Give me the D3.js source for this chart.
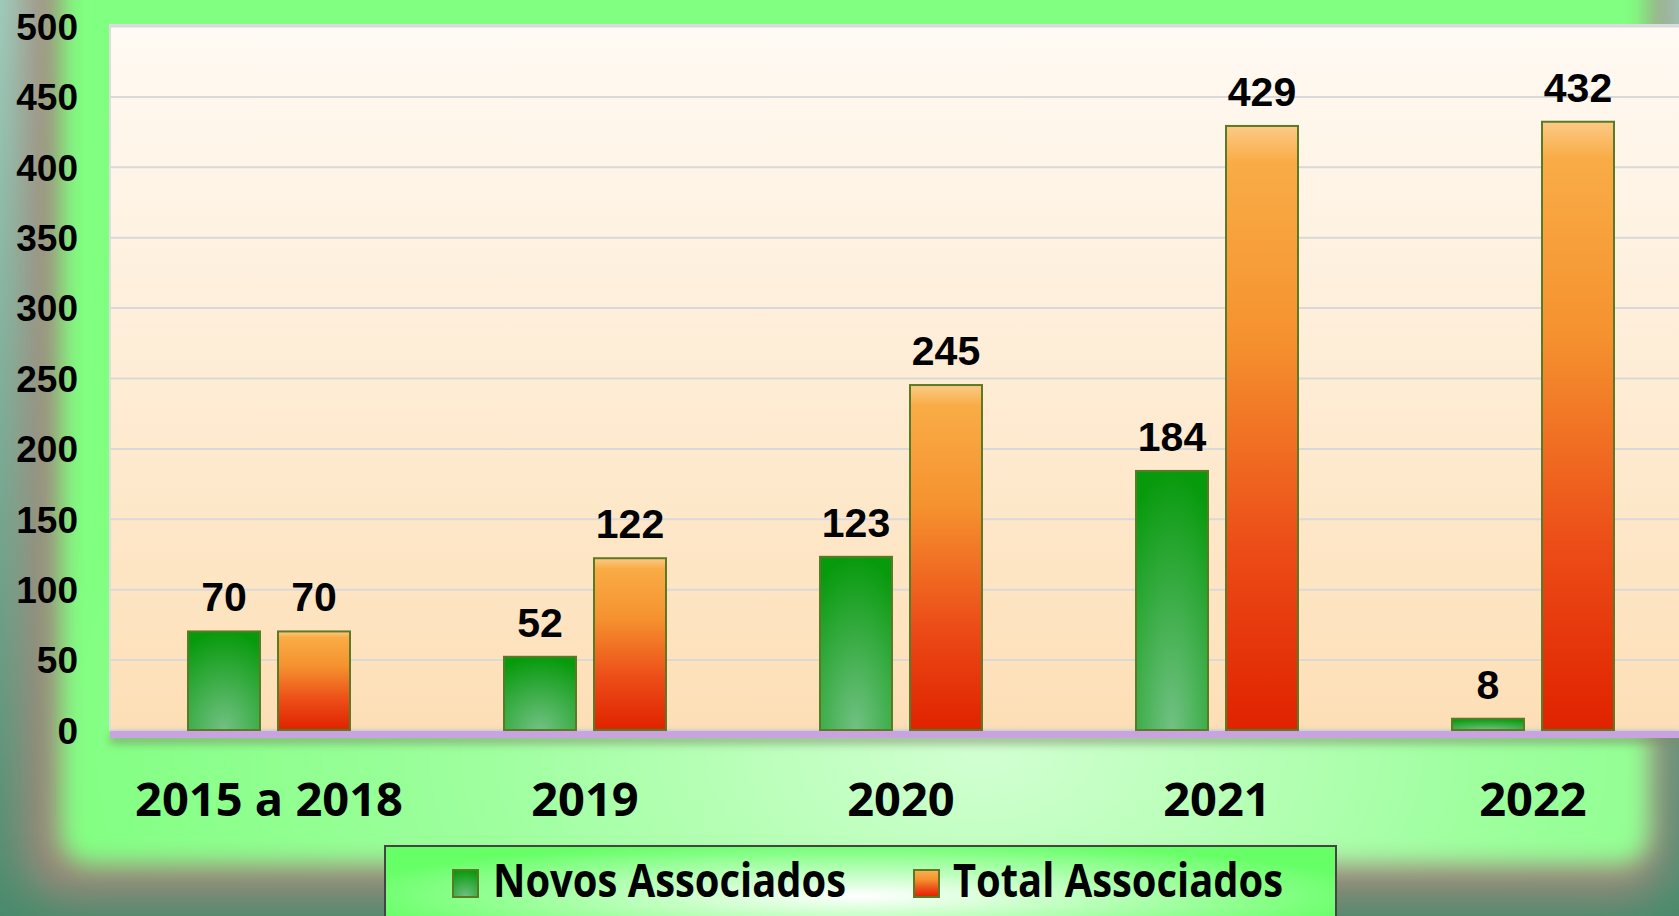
<!DOCTYPE html>
<html>
<head>
<meta charset="utf-8">
<script src="https://cdn.jsdelivr.net/npm/d3@7"></script>
<style>
  html, body { margin: 0; padding: 0; overflow: hidden; }
  #chart { width: 1679px; height: 916px; }
</style>
</head>
<body>
<div id="chart"></div>
<script>
// data
var categories = ["2015 a 2018", "2019", "2020", "2021", "2022"];
var novosAssociados = [70, 52, 123, 184, 8];
var totalAssociados = [70, 122, 245, 429, 432];
var seriesNames = ["Novos Associados", "Total Associados"];
var yTicks = [0, 50, 100, 150, 200, 250, 300, 350, 400, 450, 500];

var width = 1679, height = 916;
var plot = {left: 110, top: 25, right: 1679, bottom: 730};

var svg = d3.select("#chart").append("svg")
    .attr("width", width)
    .attr("height", height);

var defs = svg.append("defs");

var bgGrad = defs.append("linearGradient").attr("id", "bgGrad")
    .attr("x1", 0).attr("y1", 0).attr("x2", 0).attr("y2", 1);
bgGrad.append("stop").attr("offset", "0%").attr("stop-color", "#9fd2c2");
bgGrad.append("stop").attr("offset", "100%").attr("stop-color", "#4a8a6c");

var glowGrad = defs.append("radialGradient").attr("id", "glowGrad")
    .attr("cx", "58%").attr("cy", "88%").attr("r", "60%");
glowGrad.append("stop").attr("offset", "0%").attr("stop-color", "#d2ffd2");
glowGrad.append("stop").attr("offset", "55%").attr("stop-color", "#9cff9c");
glowGrad.append("stop").attr("offset", "100%").attr("stop-color", "#80ff80");

defs.append("filter").attr("id", "blurBig")
    .attr("x", "-10%").attr("y", "-10%").attr("width", "120%").attr("height", "120%")
    .append("feGaussianBlur").attr("stdDeviation", 22);
defs.append("filter").attr("id", "blurSmall")
    .attr("x", "-10%").attr("y", "-10%").attr("width", "120%").attr("height", "120%")
    .append("feGaussianBlur").attr("stdDeviation", 12);
defs.append("filter").attr("id", "blurLine")
    .attr("x", "-5%").attr("y", "-200%").attr("width", "110%").attr("height", "500%")
    .append("feGaussianBlur").attr("stdDeviation", 4);

var plotGrad = defs.append("linearGradient").attr("id", "plotGrad")
    .attr("x1", 0).attr("y1", 0).attr("x2", 0).attr("y2", 1);
plotGrad.append("stop").attr("offset", "0%").attr("stop-color", "#fffaf4");
plotGrad.append("stop").attr("offset", "100%").attr("stop-color", "#fddfb6");

var greenGrad = defs.append("radialGradient").attr("id", "greenGrad")
    .attr("cx", "50%").attr("cy", "100%").attr("r", "100%");
greenGrad.append("stop").attr("offset", "0%").attr("stop-color", "#72c184");
greenGrad.append("stop").attr("offset", "100%").attr("stop-color", "#079a0c");

var orangeGrad = defs.append("linearGradient").attr("id", "orangeGrad")
    .attr("x1", 0).attr("y1", 0).attr("x2", 0).attr("y2", 1);
orangeGrad.append("stop").attr("offset", "0%").attr("stop-color", "#fcca86");
orangeGrad.append("stop").attr("offset", "6%").attr("stop-color", "#f9ac46");
orangeGrad.append("stop").attr("offset", "35%").attr("stop-color", "#f5922f");
orangeGrad.append("stop").attr("offset", "70%").attr("stop-color", "#ec4c17");
orangeGrad.append("stop").attr("offset", "100%").attr("stop-color", "#e02200");

var legendGrad = defs.append("radialGradient").attr("id", "legendGrad")
    .attr("cx", "50%").attr("cy", "50%").attr("r", "55%");
legendGrad.append("stop").attr("offset", "0%").attr("stop-color", "#ffffff");
legendGrad.append("stop").attr("offset", "100%").attr("stop-color", "#66ff66");

// background frame
svg.append("rect").attr("width", width).attr("height", height).attr("fill", "url(#bgGrad)");
svg.append("rect")
    .attr("x", 25).attr("y", -80).attr("width", 1640).attr("height", 975)
    .attr("rx", 40)
    .attr("fill", "#a3887a")
    .attr("filter", "url(#blurBig)");
svg.append("rect")
    .attr("x", 60).attr("y", -60).attr("width", 1590).attr("height", 925)
    .attr("rx", 30)
    .attr("fill", "url(#glowGrad)")
    .attr("filter", "url(#blurSmall)");

// plot area
svg.append("rect")
    .attr("x", plot.left).attr("y", plot.top)
    .attr("width", plot.right - plot.left + 10).attr("height", plot.bottom - plot.top)
    .attr("fill", "url(#plotGrad)")
    .attr("stroke", "#dddddd")
    .attr("stroke-width", 2);

var x0 = d3.scaleBand()
    .domain(categories)
    .range([111, 1691]);

var x1 = d3.scaleBand()
    .domain(seriesNames)
    .range([0, 162])
    .paddingInner(0.2);
var groupOffset = (x0.bandwidth() - 162) / 2;

var y = d3.scaleLinear()
    .domain([0, 500])
    .range([plot.bottom, 26]);

// gridlines
var grid = svg.append("g")
    .attr("class", "grid")
    .attr("transform", `translate(${plot.left}, 0)`)
    .call(d3.axisLeft(y).tickValues(yTicks).tickSize(-(plot.right - plot.left)).tickFormat(""));
grid.select(".domain").remove();
grid.selectAll("line").attr("stroke", "#d9d9d9").attr("stroke-width", 2);
grid.selectAll(".tick").filter(d => d === 0).remove();

// y labels
var yAxis = svg.append("g")
    .attr("class", "y axis")
    .attr("transform", "translate(78, 0)")
    .call(d3.axisLeft(y).tickValues(yTicks).tickSize(0).tickPadding(0));
yAxis.select(".domain").remove();
yAxis.selectAll("text")
    .attr("fill", "#000")
    .attr("dy", "0.36em")
    .style("font-family", "'Liberation Sans', Arial, sans-serif")
    .style("font-weight", "bold")
    .style("font-size", "37px");

// baseline strip with shadow
svg.append("rect")
    .attr("x", plot.left).attr("y", y(0) + 4)
    .attr("width", plot.right - plot.left).attr("height", 10)
    .attr("fill", "#7a8a6a").attr("opacity", 0.6)
    .attr("filter", "url(#blurLine)");
svg.append("rect")
    .attr("x", plot.left).attr("y", y(0) + 1)
    .attr("width", plot.right - plot.left).attr("height", 7)
    .attr("fill", "#c9a3df");

// bars
var rows = categories.map((c, i) => ({
  category: c,
  values: [
    {series: seriesNames[0], value: novosAssociados[i]},
    {series: seriesNames[1], value: totalAssociados[i]}
  ]
}));
var fills = {"Novos Associados": "url(#greenGrad)", "Total Associados": "url(#orangeGrad)"};

var groups = svg.selectAll(".group")
    .data(rows)
    .enter()
    .append("g")
    .attr("class", "group")
    .attr("transform", d => `translate(${x0(d.category) + groupOffset}, 0)`);

groups.selectAll(".bar")
    .data(d => d.values)
    .enter()
    .append("rect")
    .attr("class", "bar")
    .attr("x", d => x1(d.series))
    .attr("y", d => y(d.value))
    .attr("width", x1.bandwidth())
    .attr("height", d => y(0) - y(d.value))
    .attr("fill", d => fills[d.series])
    .attr("stroke", "#5b7a26")
    .attr("stroke-width", 2);

groups.selectAll(".value")
    .data(d => d.values)
    .enter()
    .append("text")
    .attr("class", "value")
    .attr("x", d => x1(d.series) + x1.bandwidth() / 2)
    .attr("y", d => y(d.value) - 20)
    .attr("text-anchor", "middle")
    .style("font-family", "'Liberation Sans', Arial, sans-serif")
    .style("font-weight", "bold")
    .style("font-size", "41px")
    .text(d => d.value);

// category labels
var xAxis = svg.append("g")
    .attr("class", "x axis")
    .attr("transform", "translate(0, 816)")
    .call(d3.axisBottom(x0).tickSize(0));
xAxis.select(".domain").remove();
xAxis.selectAll("text")
    .attr("y", 0).attr("dy", 0)
    .attr("fill", "#000")
    .style("font-family", "'Open Sans', sans-serif")
    .style("font-weight", "bold")
    .style("font-size", "47px");

// legend
var legend = svg.append("g").attr("class", "legend");
legend.append("rect")
    .attr("x", 385).attr("y", 846)
    .attr("width", 951).attr("height", 100)
    .attr("fill", "url(#legendGrad)")
    .attr("stroke", "#444")
    .attr("stroke-width", 2);

var legendItems = [
  {name: seriesNames[0], sx: 453, tx: 493, len: 353},
  {name: seriesNames[1], sx: 914, tx: 953, len: 330}
];
var item = legend.selectAll(".item")
    .data(legendItems)
    .enter()
    .append("g")
    .attr("class", "item");
item.append("rect")
    .attr("x", d => d.sx).attr("y", 870)
    .attr("width", 25).attr("height", 27)
    .attr("fill", d => fills[d.name])
    .attr("stroke", "#5b7a26")
    .attr("stroke-width", 2);
item.append("text")
    .attr("x", d => d.tx).attr("y", 897)
    .attr("textLength", d => d.len)
    .attr("lengthAdjust", "spacingAndGlyphs")
    .style("font-family", "'Open Sans', sans-serif")
    .style("font-weight", "bold")
    .style("font-size", "46px")
    .text(d => d.name);
</script>
</body>
</html>
